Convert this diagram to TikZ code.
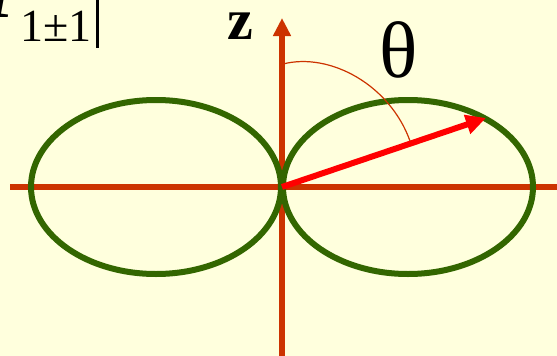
\documentclass[tikz,border=0pt]{standalone}
\usepackage{xcolor}
\usepackage{fontspec}
\setmainfont{Liberation Serif}
\usetikzlibrary{arrows.meta}
\definecolor{paper}{RGB}{255,255,221}
\definecolor{axisred}{RGB}{204,51,0}
\definecolor{lobegreen}{RGB}{51,102,0}
\definecolor{vecred}{RGB}{255,0,0}
\begin{document}
\begin{tikzpicture}[x=1pt,y=-1pt,
  axis/.style={draw=axisred,line width=6pt},
  lobe/.style={draw=lobegreen,line width=6pt},
  big/.style={inner sep=0pt,font=\fontsize{#1}{#1}\selectfont}]
  \fill[paper] (0,0) rectangle (557,356) ;
  \useasboundingbox (0,0) rectangle (557,356) ;
  \coordinate (o) at (282,187) ;
  %
  \draw[axis] (10,187) -- (557,187) ;
  \draw[axis,-{Triangle[length=18pt,width=17pt]}] (282,356) -- (282,18) ;
  %
  \draw[lobe] (156,187) ellipse (125 and 87) ;
  \draw[lobe] (408,187) ellipse (125 and 87) ;
  %
  \draw[draw=vecred,line width=6pt,-{Triangle[length=20pt,width=19pt]}] (o) -- (486,118) ;
  \draw[axisred,line width=1.2pt] (283,64) .. controls (330,52) and (390,85) .. (410,141) ;
  %
  \node[big=80,anchor=base] (theta) at (399,77) {θ} ;
  \node[big=58,anchor=base] (zlabel) at (240,39) {\textbf{z}} ;
  \node[big=46,anchor=base west] (sub) at (20,41) {1±1} ;
  \node[big=70,anchor=base east] (ylm) at (26,17) {\textbf{\textit{Y}}} ;
  \draw[line width=3pt] (97,0) -- (97,48) ;
\end{tikzpicture}
\end{document}
